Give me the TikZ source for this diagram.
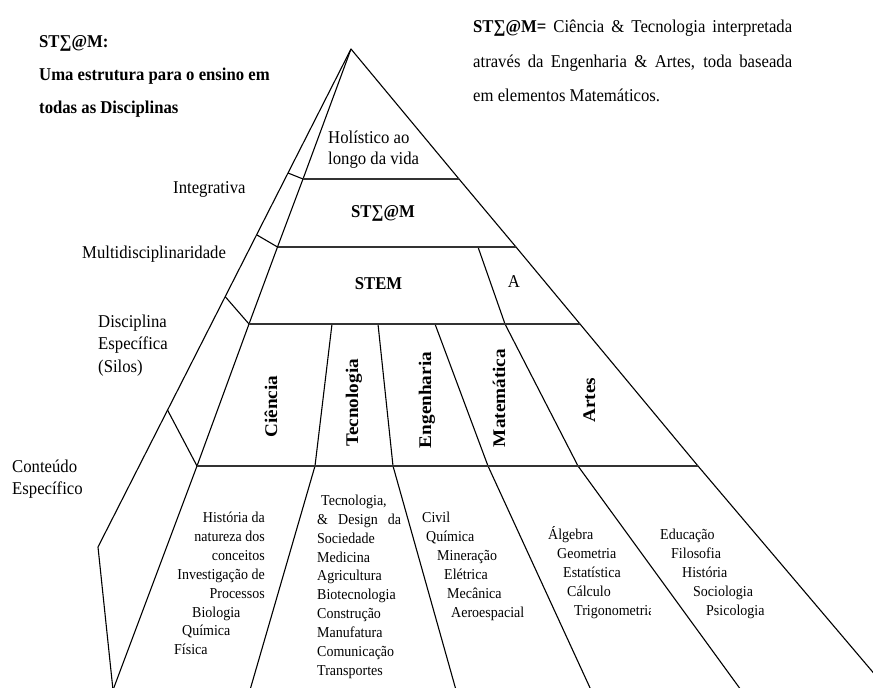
\documentclass[tikz,border=0pt]{standalone}
\usepackage{graphicx}
\usepackage{fontspec}
\setmainfont{Liberation Serif}
\newcommand{\mainsz}{\fontsize{16.7}{20}\selectfont}
\newcommand{\contsz}{\fontsize{14}{17}\selectfont}
\newcommand{\silosz}{\fontsize{17.8}{20}\selectfont}
\newcommand{\vstr}[1]{\scalebox{1}[1.08]{#1}}
\newcommand{\hstr}[1]{\scalebox{1.08}[1]{#1}}
\tikzset{
  edge/.style={line width=1.1pt, black, line join=round},
  levelline/.style={line width=1.7pt, black!80},
  txt/.style={inner sep=0pt, font=\mainsz, anchor=base west},
  ctxt/.style={inner sep=0pt, font=\contsz, anchor=base west},
  cetxt/.style={inner sep=0pt, font=\contsz, anchor=base east},
  silo/.style={inner sep=0pt, font=\silosz\bfseries, rotate=90, anchor=base},
}
\begin{document}
\begin{tikzpicture}[x=1pt,y=-1pt]
\useasboundingbox (0,0) rectangle (873,688);
\clip (0,0) rectangle (873,688);
% geometry points
\coordinate (ap) at (351,49);
\coordinate (o1) at (288,173);
\coordinate (o2) at (257,235);
\coordinate (o3) at (225.5,297);
\coordinate (o4) at (167.5,410);
\coordinate (ob) at (98,547);
\coordinate (i1) at (303,179);
\coordinate (i2) at (277.5,247);
\coordinate (i3) at (249,324);
\coordinate (i4) at (197,466);
\coordinate (bl) at (113,690);
\coordinate (r1) at (459,179);
\coordinate (r2) at (516,247);
\coordinate (r3) at (580,324);
\coordinate (r4) at (698,466);
\coordinate (rb) at (888,690);
\coordinate (c1a) at (332,324);
\coordinate (c1b) at (315,466);
\coordinate (c1c) at (250,690);
\coordinate (c2a) at (378,324);
\coordinate (c2b) at (393,466);
\coordinate (c2c) at (456,690);
\coordinate (c3a) at (435,324);
\coordinate (c3b) at (488,466);
\coordinate (c3c) at (591,690);
\coordinate (c4z) at (478,247);
\coordinate (c4a) at (505,324);
\coordinate (c4b) at (578,466);
\coordinate (c4c) at (741,690);
% pyramid outline
\draw[edge] (bl) -- (ob) -- (ap) -- (r1) -- (r2) -- (r3) -- (r4) -- (rb);
\draw[edge] (ap) -- (i1) -- (i2) -- (i3) -- (i4) -- (bl);
% side ticks
\draw[edge] (o1) -- (i1);
\draw[edge] (o2) -- (i2);
\draw[edge] (o3) -- (i3);
\draw[edge] (o4) -- (i4);
% column dividers
\draw[edge] (c1a) -- (c1b) -- (c1c);
\draw[edge] (c2a) -- (c2b) -- (c2c);
\draw[edge] (c3a) -- (c3b) -- (c3c);
\draw[edge] (c4z) -- (c4a) -- (c4b) -- (c4c);
% level lines
\draw[levelline] (i1) -- (r1);
\draw[levelline] (i2) -- (r2);
\draw[levelline] (i3) -- (r3);
\draw[levelline] (i4) -- (r4);
% title
\node[txt] (t1) at (39,47) {\vstr{\bfseries ST∑@M:}};
\node[txt] (t2) at (39,80) {\vstr{\bfseries Uma estrutura para o ensino em}};
\node[txt] (t3) at (39,113) {\vstr{\bfseries todas as Disciplinas}};
% definition
\node[txt] (d1) at (473,32) {\vstr{\makebox[319pt][s]{\textbf{ST∑@M=} Ciência \& Tecnologia interpretada}}};
\node[txt] (d2) at (473,67) {\vstr{\makebox[319pt][s]{através da Engenharia \& Artes, toda baseada}}};
\node[txt] (d3) at (473,101) {\vstr{em elementos Matemáticos.}};
% side labels
\node[txt] (lint) at (173,193) {\vstr{Integrativa}};
\node[txt] (lmul) at (82,258) {\vstr{Multidisciplinaridade}};
\node[txt] (ldisa) at (98,327) {\vstr{Disciplina}};
\node[txt] (ldisb) at (98,349) {\vstr{Específica}};
\node[txt] (ldisc) at (98,372) {\vstr{(Silos)}};
\node[txt] (lcona) at (12,472) {\vstr{Conteúdo}};
\node[txt] (lconb) at (12,494) {\vstr{Específico}};
% pyramid levels
\node[txt] (hola) at (328,143) {\vstr{Holístico ao}};
\node[txt] (holb) at (328,164) {\vstr{longo da vida}};
\node[txt, anchor=base] (steam) at (383,217) {\vstr{\bfseries ST∑@M}};
\node[txt, anchor=base] (stem) at (378.5,289) {\vstr{\bfseries STEM}};
\node[txt, anchor=base] (arts) at (514,287) {\vstr{A}};
% silos
\node[silo] (sci) at (277,406.5) {\hstr{Ciência}};
\node[silo] (stec) at (358,403) {\hstr{Tecnologia}};
\node[silo] (seng) at (431,400) {\hstr{Engenharia}};
\node[silo] (smat) at (505,398) {\hstr{Matemática}};
\node[silo] (sart) at (595,400) {\hstr{Artes}};
% content: Ciencia
\node[cetxt] (ca1) at (265,522) {\vstr{História da}};
\node[cetxt] (ca2) at (265,541) {\vstr{natureza dos}};
\node[cetxt] (ca3) at (265,560) {\vstr{conceitos}};
\node[cetxt] (ca4) at (265,579) {\vstr{Investigação de}};
\node[cetxt] (ca5) at (265,598) {\vstr{Processos}};
\node[ctxt] (ca6) at (192,617) {\vstr{Biologia}};
\node[ctxt] (ca7) at (182,635) {\vstr{Química}};
\node[ctxt] (ca8) at (174,654) {\vstr{Física}};
% content: Tecnologia
\node[ctxt] (cb1) at (321,505) {\vstr{Tecnologia,}};
\node[ctxt] (cb2) at (317,524) {\vstr{\makebox[84pt][s]{\& Design da}}};
\node[ctxt] (cb3) at (317,543) {\vstr{Sociedade}};
\node[ctxt] (cb4) at (317,562) {\vstr{Medicina}};
\node[ctxt] (cb5) at (317,580) {\vstr{Agricultura}};
\node[ctxt] (cb6) at (317,599) {\vstr{Biotecnologia}};
\node[ctxt] (cb7) at (317,618) {\vstr{Construção}};
\node[ctxt] (cb8) at (317,637) {\vstr{Manufatura}};
\node[ctxt] (cb9) at (317,656) {\vstr{Comunicação}};
\node[ctxt] (cb10) at (317,675) {\vstr{Transportes}};
% content: Engenharia
\node[ctxt] (cc1) at (422,522) {\vstr{Civil}};
\node[ctxt] (cc2) at (426,541) {\vstr{Química}};
\node[ctxt] (cc3) at (437,560) {\vstr{Mineração}};
\node[ctxt] (cc4) at (444,579) {\vstr{Elétrica}};
\node[ctxt] (cc5) at (447,598) {\vstr{Mecânica}};
\node[ctxt] (cc6) at (451,617) {\vstr{Aeroespacial}};
% content: Matematica
\node[ctxt] (cd1) at (548,539) {\vstr{Álgebra}};
\node[ctxt] (cd2) at (557,558) {\vstr{Geometria}};
\node[ctxt] (cd3) at (563,577) {\vstr{Estatística}};
\node[ctxt] (cd4) at (567,596) {\vstr{Cálculo}};
\begin{scope}
\clip (560,598) rectangle (650,625);
\node[ctxt] (cd5) at (574,615) {\vstr{Trigonometria}};
\end{scope}
% content: Artes
\node[ctxt] (ce1) at (660,539) {\vstr{Educação}};
\node[ctxt] (ce2) at (671,558) {\vstr{Filosofia}};
\node[ctxt] (ce3) at (682,577) {\vstr{História}};
\node[ctxt] (ce4) at (693,596) {\vstr{Sociologia}};
\node[ctxt] (ce5) at (706,615) {\vstr{Psicologia}};
\end{tikzpicture}
\end{document}
